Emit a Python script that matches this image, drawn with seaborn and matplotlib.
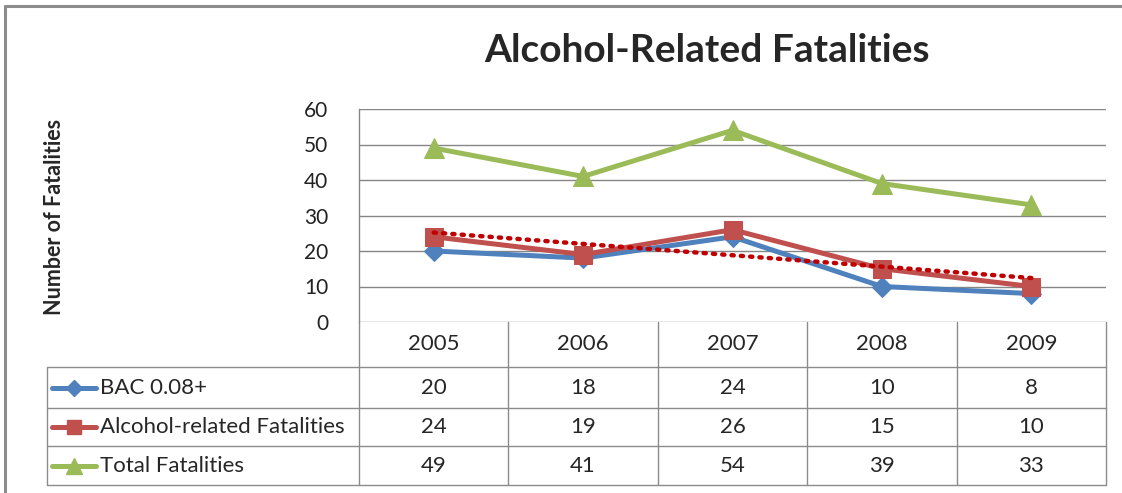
import numpy as np
import pandas as pd
import matplotlib
matplotlib.use("Agg")
import matplotlib.pyplot as plt
import seaborn as sns
from matplotlib.lines import Line2D

# chart data
years = ["2005", "2006", "2007", "2008", "2009"]
bac = [20, 18, 24, 10, 8]
alcohol = [24, 19, 26, 15, 10]
total = [49, 41, 54, 39, 33]
series_names = ["BAC 0.08+", "Alcohol-related Fatalities", "Total Fatalities"]
y_ticks = [0, 10, 20, 30, 40, 50, 60]

colors = {"BAC 0.08+": "#4F81BD",
          "Alcohol-related Fatalities": "#C0504D",
          "Total Fatalities": "#9BBB59"}
markers = {"BAC 0.08+": "D", "Alcohol-related Fatalities": "s", "Total Fatalities": "^"}
msizes = {"BAC 0.08+": 10, "Alcohol-related Fatalities": 13, "Total Fatalities": 14}

df = pd.DataFrame({"year": years * 3,
                   "value": bac + alcohol + total,
                   "series": sum([[s] * len(years) for s in series_names], [])})

sns.set_style("white")
plt.rcParams["font.family"] = ["Lato", "DejaVu Sans"]

W, H = 1122, 493
fig = plt.figure(figsize=(W / 100, H / 100), dpi=100)
fig.patch.set_facecolor("white")

# outer chart border: only top and left edges are inside the picture
bx, by = 5 / W, (H - 6) / H
fig.add_artist(Line2D([bx, 1.0], [by, by], transform=fig.transFigure, color="#8c8c8c", lw=2.2))
fig.add_artist(Line2D([bx, bx], [0.0, by], transform=fig.transFigure, color="#8c8c8c", lw=2.2))

left, right = 359, 1106
top, bottom = 109, 322
ax = fig.add_axes([left / W, (H - bottom) / H, (right - left) / W, (bottom - top) / H])

for s in series_names:
    sub = df[df["series"] == s]
    sns.lineplot(data=sub, x="year", y="value", ax=ax, color=colors[s],
                 marker=markers[s], markersize=msizes[s], markeredgecolor=colors[s],
                 linewidth=3.6, legend=False, zorder=3)

# linear trendline of alcohol-related fatalities
idx = np.arange(len(years))
k, b = np.polyfit(idx, alcohol, 1)
ax.plot(idx, k * idx + b, color="#C00000", linestyle=(0, (0.5, 1.6)),
        linewidth=3.2, dash_capstyle="round", zorder=4)

ax.set_xlim(-0.5, len(years) - 0.5)
ax.set_ylim(0, 60)
ax.set_yticks(y_ticks)
ax.set_xticks([])
ax.set_xlabel("")
ax.set_ylabel("")
ax.tick_params(axis="y", labelsize=15, length=0, pad=22, labelcolor="#222222")
ax.grid(False)
for yv in y_ticks:
    ax.axhline(yv, color="#868686", lw=1, zorder=1)
for side in ["top", "right", "bottom"]:
    ax.spines[side].set_visible(False)
ax.spines["left"].set_color("#868686")
ax.spines["left"].set_linewidth(1)

fig.text(707 / W, (H - 50) / H, "Alcohol-Related Fatalities", ha="center", va="center",
         fontsize=28, fontweight="bold")
fig.text(55 / W, (H - 217) / H, "Number of Fatalities", rotation=90, ha="center",
         va="center", fontsize=15.5, fontweight="bold")

# data table below the plot
t_left, t_bottom = 47, 485
unit = (right - left) / len(years)
leg_w = (left - t_left) / unit
tax = fig.add_axes([t_left / W, (H - t_bottom) / H, (right - t_left) / W, (t_bottom - bottom) / H])
tax.set_xlim(-0.5 - leg_w, len(years) - 0.5)
tax.set_ylim(t_bottom - bottom, 0)
tax.axis("off")

rows = [0, 45, 86, 124, 163]
gc = "#8c8c8c"
for r in rows[1:]:
    tax.plot([-0.5 - leg_w, len(years) - 0.5], [r, r], color=gc, lw=1, clip_on=False)
tax.plot([-0.5 - leg_w] * 2, [rows[1], rows[-1]], color=gc, lw=1, clip_on=False)
for i in range(len(years) + 1):
    tax.plot([i - 0.5] * 2, [0, rows[-1]], color=gc, lw=1, clip_on=False)

for i, yr in enumerate(years):
    tax.text(i, (rows[0] + rows[1]) / 2, yr, ha="center", va="center", fontsize=16)

values = {"BAC 0.08+": bac, "Alcohol-related Fatalities": alcohol, "Total Fatalities": total}
for j, s in enumerate(series_names):
    yc = (rows[j + 1] + rows[j + 2]) / 2
    for i, v in enumerate(values[s]):
        tax.text(i, yc, str(v), ha="center", va="center", fontsize=16)
    x0 = -0.5 - leg_w + 5 / unit
    x1 = x0 + 44 / unit
    tax.add_line(Line2D([x0, x1], [yc, yc], color=colors[s], lw=3.6))
    tax.plot([(x0 + x1) / 2], [yc], marker=markers[s], color=colors[s],
             markersize=msizes[s] * 0.8)
    tax.text(x1 + 4 / unit, yc, s, ha="left", va="center", fontsize=16)

fig.savefig("out.png", dpi=100)
